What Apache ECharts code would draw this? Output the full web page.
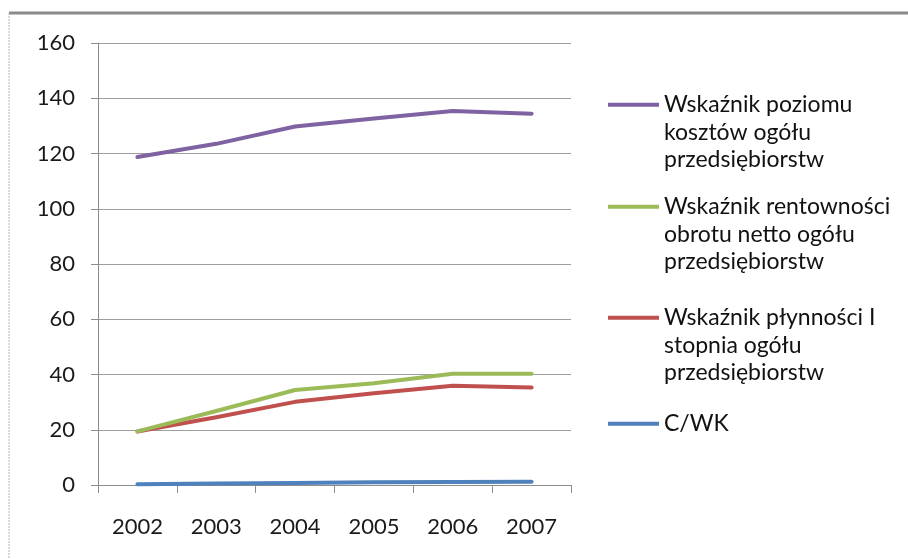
<!DOCTYPE html>
<html>
<head>
<meta charset="utf-8">
<script src="https://cdn.jsdelivr.net/npm/echarts@6/dist/echarts.min.js"></script>
<style>
  html, body { margin: 0; padding: 0; background: #fff; }
  #chart { width: 908px; height: 559px; }
</style>
</head>
<body>
<div id="chart"></div>
<script>
// Years on the category axis
const years = ['2002', '2003', '2004', '2005', '2006', '2007'];

// Indicator values per year
const kosztyValues = [118.7, 123.5, 129.8, 132.7, 135.4, 134.4];
const rentownoscValues = [19.4, 26.8, 34.4, 36.8, 40.3, 40.3];
const plynnoscValues = [19.4, 24.5, 30.1, 33.2, 35.9, 35.3];
const cwkValues = [0.3, 0.5, 0.7, 1.0, 1.1, 1.2];

// Value axis ticks
const yMin = 0;
const yMax = 160;
const yStep = 20;

// Series names and their wrapped legend labels
const seriesNames = [
  'Wskaźnik poziomu kosztów ogółu przedsiębiorstw',
  'Wskaźnik rentowności obrotu netto ogółu przedsiębiorstw',
  'Wskaźnik płynności I stopnia ogółu przedsiębiorstw',
  'C/WK'
];
const legendLabels = [
  'Wskaźnik poziomu\nkosztów ogółu\nprzedsiębiorstw',
  'Wskaźnik rentowności\nobrotu netto ogółu\nprzedsiębiorstw',
  'Wskaźnik płynności I\nstopnia ogółu\nprzedsiębiorstw',
  'C/WK'
];

const colors = ['#7f62a1', '#9bbb59', '#c0504d', '#4f81bd'];
const seriesData = [kosztyValues, rentownoscValues, plynnoscValues, cwkValues];

const FONT = 'Lato';
const LINE_H = 27.5;

// Legend swatch drawn next to the first text line of a three-line entry
const tallIcon = 'path://M0,0 L0.05,0 L0.05,0.05 Z M0,11.75 L51,11.75 L51,15.75 L0,15.75 Z M0,82.5 L0.05,82.5 L0.05,82.45 Z';
const flatIcon = 'path://M0,0 L51,0 L51,4 L0,4 Z';

const legendTops = [91, 193, 304, 410];

function makeLegend(i) {
  const multi = legendLabels[i].indexOf('\n') >= 0;
  return {
    data: [{ name: seriesNames[i], icon: multi ? tallIcon : flatIcon }],
    orient: 'vertical',
    left: 608,
    top: legendTops[i],
    itemWidth: 51,
    itemHeight: multi ? 82.5 : 4,
    padding: 0,
    selectedMode: false,
    itemStyle: { borderWidth: 0 },
    formatter: function () { return legendLabels[i]; },
    textStyle: {
      fontFamily: FONT,
      fontSize: 23,
      lineHeight: LINE_H,
      color: '#111'
    }
  };
}

const chart = echarts.init(document.getElementById('chart'), null, { renderer: 'canvas' });

chart.setOption({
  backgroundColor: '#ffffff',
  animation: false,
  graphic: [
    {
      type: 'line',
      shape: { x1: 9, y1: 13, x2: 908, y2: 13 },
      style: { stroke: '#8a8a8a', lineWidth: 3 },
      silent: true
    },
    {
      type: 'line',
      shape: { x1: 9, y1: 13, x2: 9, y2: 559 },
      style: { stroke: '#b5b5b5', lineWidth: 1, lineDash: [2, 1] },
      silent: true
    }
  ],
  legend: [0, 1, 2, 3].map(makeLegend),
  grid: {
    left: 98,
    right: 337,
    top: 43,
    bottom: 74,
    containLabel: false
  },
  xAxis: {
    type: 'category',
    data: years,
    boundaryGap: true,
    axisLine: { lineStyle: { color: '#8c8c8c', width: 1 } },
    axisTick: { show: true, length: 8, lineStyle: { color: '#8c8c8c' } },
    axisLabel: {
      margin: 31,
      fontFamily: FONT,
      fontSize: 22,
      color: '#1a1a1a'
    },
    splitLine: { show: false }
  },
  yAxis: {
    type: 'value',
    min: yMin,
    max: yMax,
    interval: yStep,
    axisLine: { show: true, lineStyle: { color: '#8c8c8c', width: 1 } },
    axisTick: { show: true, length: 7, lineStyle: { color: '#8c8c8c' } },
    axisLabel: {
      margin: 23,
      fontFamily: FONT,
      fontSize: 22,
      color: '#1a1a1a'
    },
    splitLine: { show: true, lineStyle: { color: '#9e9e9e', width: 1 } }
  },
  series: seriesNames.map(function (name, i) {
    return {
      name: name,
      type: 'line',
      data: seriesData[i],
      symbol: 'none',
      showSymbol: false,
      color: colors[i],
      lineStyle: { color: colors[i], width: 4, cap: 'round', join: 'round' },
      z: 10 - i
    };
  })
});
</script>
</body>
</html>
